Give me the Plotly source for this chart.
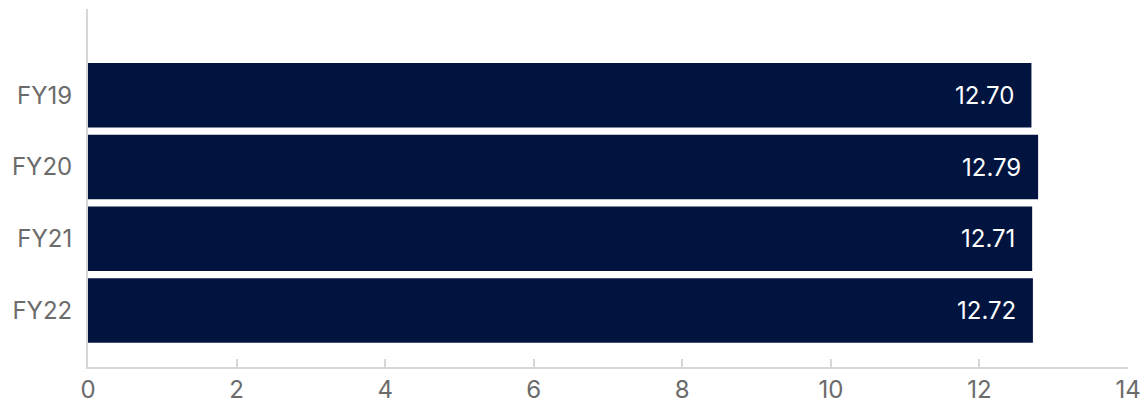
import plotly.graph_objects as go

# Fiscal years and their values
years = ["FY19", "FY20", "FY21", "FY22"]
values = [12.70, 12.79, 12.71, 12.72]
x_ticks = [0, 2, 4, 6, 8, 10, 12, 14]

bar_color = "#00143F"
axis_color = "#D6D6D6"
label_color = "#6B6B6B"
font_family = "Inter, Roboto, sans-serif"

fig = go.Figure(
    go.Bar(
        x=values,
        y=years,
        orientation="h",
        marker=dict(color=bar_color, line=dict(width=0)),
        hoverinfo="skip",
    )
)

# value labels at the inner end of each bar
for yr, v in zip(years, values):
    fig.add_annotation(
        x=v, y=yr, text=f"{v:.2f}", showarrow=False,
        xanchor="right", yanchor="middle", xshift=-15,
        font=dict(family=font_family, size=24, color="white"),
    )

fig.update_layout(
    width=1140,
    height=403,
    margin=dict(l=88, r=12, t=9, b=36),
    paper_bgcolor="white",
    plot_bgcolor="white",
    bargap=0.1,
    showlegend=False,
    font=dict(family=font_family, size=24, color=label_color),
)

fig.update_xaxes(
    range=[0, 14],
    tickvals=x_ticks,
    ticktext=[str(t) for t in x_ticks],
    automargin=False,
    ticklabeloverflow="allow",
    showgrid=False,
    zeroline=False,
    showline=True,
    linecolor=axis_color,
    linewidth=2,
    ticks="inside",
    ticklen=8,
    tickcolor=axis_color,
    tickwidth=2,
    tickfont=dict(family=font_family, size=24, color=label_color),
)

fig.update_yaxes(
    categoryorder="array",
    categoryarray=years,
    range=[3.79, -1.205],
    automargin=False,
    showgrid=False,
    zeroline=False,
    showline=True,
    linecolor=axis_color,
    linewidth=2,
    ticks="",
    ticklabelstandoff=9,
    tickfont=dict(family=font_family, size=24, color=label_color),
)

fig.write_html("out.html")
